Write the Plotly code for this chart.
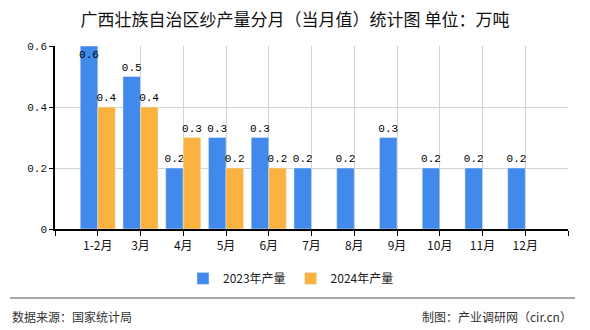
import plotly.graph_objects as go

categories = ["1-2月", "3月", "4月", "5月", "6月", "7月", "8月", "9月", "10月", "11月", "12月"]
values_2023 = [0.6, 0.5, 0.2, 0.3, 0.3, 0.2, 0.2, 0.3, 0.2, 0.2, 0.2]
values_2024 = [0.4, 0.4, 0.3, 0.2, 0.2, None, None, None, None, None, None]
y_ticks = [0, 0.2, 0.4, 0.6]
y_tick_text = ["0", "0.2", "0.4", "0.6"]

BLUE = "#418AEB"
ORANGE = "#FBB23F"
MONO = "Liberation Mono, DejaVu Sans Mono, monospace"
CJK = "Noto Sans CJK SC, sans-serif"

xpos = list(range(len(categories)))
ymax = y_ticks[-1]

def fmt(v):
    return "" if v is None else f"{v:.1f}"

pos23 = ["inside" if v is not None and v >= ymax else "outside" for v in values_2023]
lblfont = dict(family=MONO, size=11, color="black")

fig = go.Figure()
fig.add_trace(go.Bar(
    x=xpos, y=values_2023, name="2023年产量", marker_color=BLUE,
    text=[fmt(v) for v in values_2023], textposition=pos23,
    insidetextanchor="end", textangle=0, constraintext="none",
    textfont=lblfont, insidetextfont=lblfont, outsidetextfont=lblfont,
    cliponaxis=False, hoverinfo="skip",
))
fig.add_trace(go.Bar(
    x=xpos, y=values_2024, name="2024年产量", marker_color=ORANGE,
    text=[fmt(v) for v in values_2024], textposition="outside",
    textangle=0, constraintext="none",
    textfont=lblfont, outsidetextfont=lblfont,
    cliponaxis=False, hoverinfo="skip",
))

fig.update_layout(
    width=590, height=330,
    margin=dict(l=55, r=22, t=46, b=101),
    paper_bgcolor="white", plot_bgcolor="white",
    barmode="group", bargap=0.18, bargroupgap=0,
    showlegend=True,
    legend=dict(orientation="h", x=0.46, xanchor="center",
                y=-0.27, yanchor="middle",
                font=dict(family=CJK, size=12, color="#222"),
                itemwidth=30, traceorder="normal"),
    title=dict(text="广西壮族自治区纱产量分月（当月值）统计图 单位：万吨",
               x=0.5, xanchor="center", y=0.94, yanchor="middle",
               font=dict(family=CJK, size=17, color="#111")),
)

fig.update_xaxes(
    range=[-1, len(categories)],
    tickmode="array",
    tickvals=list(range(-1, len(categories) + 1)),
    ticktext=[""] + categories + [""],
    showgrid=True, gridcolor="#d3d3d3", gridwidth=1,
    showline=True, linecolor="black", linewidth=1.5,
    ticks="outside", ticklen=5, tickcolor="black",
    tickfont=dict(family=CJK, size=12, color="#111"),
    zeroline=False, fixedrange=True,
)
fig.update_yaxes(
    range=[0, ymax],
    tickmode="array", tickvals=y_ticks, ticktext=y_tick_text,
    showgrid=True, gridcolor="#d3d3d3", gridwidth=1,
    showline=True, linecolor="black", linewidth=1.5,
    ticks="outside", ticklen=4, tickcolor="black",
    tickfont=dict(family=MONO, size=11, color="#111"),
    zeroline=False, fixedrange=True,
)

# separator line and footer
fig.add_shape(type="line", xref="paper", yref="paper",
              x0=-45/513, x1=(575-55)/513, y0=-(298-229)/183, y1=-(298-229)/183,
              line=dict(color="#888", width=1.5))
fig.add_annotation(text="数据来源：国家统计局", xref="paper", yref="paper",
                   x=-45/513, y=-(316-229)/183, xanchor="left", yanchor="middle",
                   showarrow=False, font=dict(family=CJK, size=12, color="#333"))
fig.add_annotation(text="制图：产业调研网（cir.cn）", xref="paper", yref="paper",
                   x=(574-55)/513, y=-(316-229)/183, xanchor="right", yanchor="middle",
                   showarrow=False, font=dict(family=CJK, size=12, color="#333"))

fig.write_html("out.html")
